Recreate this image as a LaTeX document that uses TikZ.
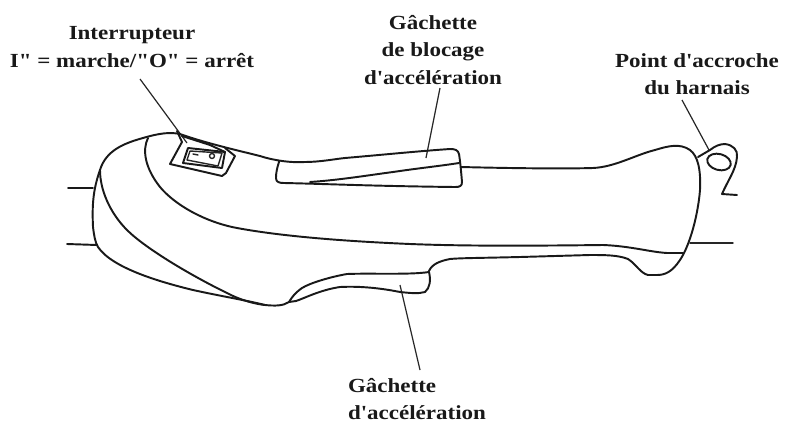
\documentclass[tikz,border=0pt]{standalone}
\usepackage{fontspec}
\setmainfont{Liberation Serif}[FakeStretch=1.15,Ligatures=TeXOff]
\begin{document}
\begin{tikzpicture}[x=0.75pt,y=-0.75pt,
  outl/.style={line width=1.45pt,color=black!90,line cap=round,line join=round},
  thin outl/.style={line width=1.05pt,color=black!85,line cap=round,line join=round},
  leader/.style={line width=0.9pt,color=black!85},
  lab/.style={font=\bfseries\fontsize{15}{20.6}\selectfont,inner sep=0pt,text=black!90}]
\useasboundingbox (0,0) rectangle (796,422);
\fill[white] (0,0) rectangle (796,422);
% labels
\node[lab,align=center] (lsw) at (132,47) {Interrupteur\\I" = marche/"O" = arrêt};
\node[lab,align=center] (lblk) at (433,50) {Gâchette\\de blocage\\d'accélération};
\node[lab,align=center] (lhar) at (697,74) {Point d'accroche\\du harnais};
\node[lab,align=left] (lacc) at (417,399) {Gâchette\\d'accélération};
% leader ends
\coordinate (ssw) at (140,79);
\coordinate (sblk) at (440,88);
\coordinate (shar) at (682,100);
\coordinate (sacc) at (420,370);
\coordinate (tsw) at (187,143);
\coordinate (tblk) at (426,158);
\coordinate (thar) at (709,150);
\coordinate (tacc) at (400,285);
\draw[leader] (ssw) -- (tsw);
\draw[leader] (sblk) -- (tblk);
\draw[leader] (shar) -- (thar);
\draw[leader] (sacc) -- (tacc);
% silhouette: nose and top, continuing into the upper trigger
\draw[outl] (93,227) .. controls (92,205) and (93,190) .. (100,170)
  .. controls (106,150) and (125,143) .. (143,138)
  .. controls (160,133) and (170,132) .. (180,134)
  .. controls (205,143) and (240,151) .. (260,156)
  .. controls (272,160) and (290,163) .. (305,162)
  .. controls (320,162) and (335,159) .. (345,158)
  .. controls (380,155) and (420,151) .. (450,149)
  .. controls (455,149) and (458,150) .. (459,154)
  .. controls (460,160) and (461,170) .. (462,182)
  .. controls (462,186) and (460,187) .. (455,187)
  .. controls (370,186) and (330,184) .. (284,183)
  .. controls (279,183) and (276,182) .. (276,178)
  .. controls (276,173) and (277,168) .. (279,162);
\draw[outl] (310,182) .. controls (340,180) and (370,175) .. (393,172) .. controls (420,168) and (440,166) .. (459,163);
% right part of handle
\draw[outl] (461,167) .. controls (500,168) and (560,169) .. (593,168)
  .. controls (615,167) and (635,155) .. (655,150)
  .. controls (668,146) and (680,143) .. (690,150)
  .. controls (698,156) and (701,170) .. (700,190)
  .. controls (698,215) and (690,245) .. (680,260)
  .. controls (672,272) and (665,275) .. (657,275)
  -- (648,275)
  .. controls (640,273) and (636,264) .. (628,259)
  .. controls (618,255) and (605,255) .. (590,255)
  -- (520,257)
  .. controls (480,258) and (460,258) .. (450,259)
  .. controls (440,261) and (432,264) .. (429,271);
% trigger
\draw[outl] (429,272) .. controls (410,275) and (370,273) .. (347,274)
  .. controls (330,277) and (310,283) .. (302,288)
  .. controls (295,293) and (292,297) .. (289,302);
\draw[outl] (429,272) .. controls (431,280) and (430,288) .. (425,292)
  .. controls (418,294) and (410,293) .. (400,292)
  .. controls (380,288) and (360,286) .. (340,287)
  .. controls (320,290) and (305,298) .. (296,301) -- (289,302);
% lower left
\draw[outl] (93,227) .. controls (94,235) and (95,242) .. (98,247)
  .. controls (112,268) and (160,282) .. (193,290)
  .. controls (220,296) and (245,300) .. (265,305)
  .. controls (275,306) and (283,306) .. (289,302);
\draw[outl] (100,170) .. controls (100,190) and (110,213) .. (127,230)
  .. controls (145,248) and (190,275) .. (227,293)
  .. controls (240,300) and (255,304) .. (265,305);
% inner top curve
\draw[outl] (148,138) .. controls (142,150) and (145,168) .. (160,187)
  .. controls (175,205) and (205,222) .. (237,228)
  .. controls (280,236) and (340,241) .. (410,244)
  .. controls (460,246) and (520,246) .. (603,245)
  .. controls (630,246) and (650,252) .. (667,253) -- (683,253);
% stubs
\draw[outl] (68,188) -- (93,188);
\draw[outl] (67,244) -- (97,245);
\draw[thin outl] (690,243) -- (733,243);
% switch
\draw[outl] (177,131) -- (182,142) -- (170,164) -- (222,176) -- (226,173) -- (235,156) -- (225,148);
\draw[outl] (182,136) -- (210,145) -- (225,152);
\draw[outl] (188,148) -- (183,163) -- (222,168) -- (225,152) -- cycle;
\draw[thin outl] (190,151) -- (187,160) -- (218,166) -- (222,153) -- cycle;
\draw[thin outl] (193,154) -- (198,155);
\draw[thin outl] (212,156) circle (2.5);
% ring
\draw[outl] (719,162) ellipse[x radius=12,y radius=8,rotate=-15];
\draw[outl] (698,157) -- (710,150) .. controls (715,146) and (720,144) .. (725,144)
  .. controls (733,145) and (738,150) .. (737,157)
  .. controls (736,170) and (728,180) .. (722,194) -- (737,195);
\end{tikzpicture}
\end{document}
